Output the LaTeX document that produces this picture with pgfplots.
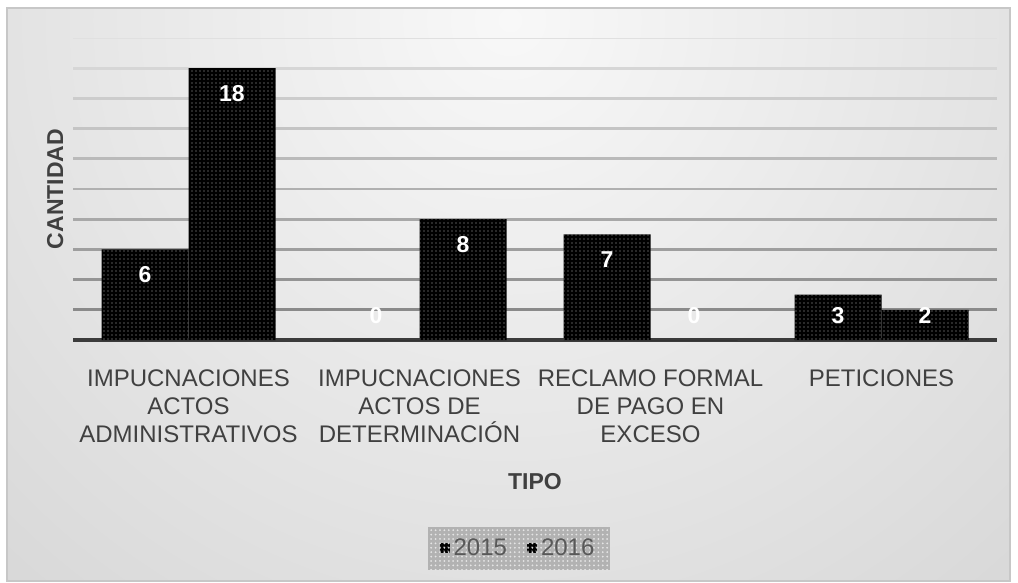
\documentclass[border=0pt]{standalone}
\usepackage{fontspec}
\setmainfont{Liberation Sans}
\usepackage{pgfplots}
\pgfplotsset{compat=1.18}
\usetikzlibrary{patterns.meta}

\definecolor{txt}{HTML}{404040}
\definecolor{leg}{HTML}{595959}
\definecolor{bginner}{HTML}{F8F8F8}
\definecolor{bgouter}{HTML}{C9C9C9}

\begin{document}
\begin{tikzpicture}
\useasboundingbox (0,0) rectangle (509pt,-291.5pt);
\fill[white] (0,0) rectangle (509pt,-291.5pt);
\begin{scope}
  \clip (3.5pt,-4pt) rectangle (505pt,-290.5pt);
  \shade[inner color=bginner, outer color=bgouter] (255pt,-10pt) circle (560pt);
\end{scope}
\draw[black!22, line width=0.6pt] (3.5pt,-4pt) rectangle (505pt,-290.5pt);

\begin{axis}[
  at={(36.5pt,-170pt)}, anchor=south west,
  scale only axis, width=462pt, height=151pt,
  ybar=0pt, bar width=43.5pt,
  xmin=-0.5, xmax=3.5, ymin=0, ymax=20,
  /pgf/number format/assume math mode=true,
  axis x line*=bottom, axis y line*=left,
  x axis line style={black!77, line width=2pt, -},
  y axis line style={draw=none},
  ytick=\empty,
  xtick={0,1,2,3},
  major tick length=0pt,
  xticklabels={{IMPUCNACIONES\\ACTOS\\ADMINISTRATIVOS},{IMPUCNACIONES\\ACTOS DE\\DETERMINACIÓN},{RECLAMO FORMAL\\DE PAGO EN\\EXCESO},{PETICIONES}},
  xticklabel style={align=center, font=\fontsize{12}{14}\selectfont, text=txt, anchor=north, inner sep=0pt, yshift=-14.5pt},
  xlabel={TIPO},
  xlabel style={at={(axis description cs:0.5,-0.4934)}, anchor=base, inner sep=0pt, font=\fontsize{11.5}{12}\selectfont\bfseries, text=txt},
  ylabel={CANTIDAD},
  ylabel style={at={(axis description cs:-0.0108,0.5)}, anchor=base, inner sep=0pt, font=\fontsize{11.5}{12}\selectfont\bfseries, text=txt},
  nodes near coords,
  visualization depends on={rawy \as \ry},
  every node near coord/.append style={font=\fontsize{11.5}{12}\selectfont\bfseries, text=white, anchor=center, inner sep=0pt, yshift={(max(\ry-1.68,1.6)-\ry)*7.55pt}},
  legend columns=-1,
  legend style={at={(axis description cs:0.4827,-0.690)}, anchor=center, draw=none,
    fill=black!30, postaction={pattern={Dots[distance=2.2pt,radius=0.5pt]}, pattern color=white!90!black},
    font=\fontsize{12}{13}\selectfont, text=leg, inner xsep=6pt, inner ysep=4pt,
    /tikz/every even column/.append style={column sep=8pt}},
  every axis plot post/.append style={
    legend image code/.code={\fill[black] (0pt,-2.5pt) rectangle (5pt,2.5pt);}},
]
\foreach \v/\c in {2/46,4/42,6/38,8/34,10/31,12/27,14/23,16/20,18/16,20/12}{
  \edef\tmp{\noexpand\draw[black!\c, line width=1.35pt] (axis cs:-0.5,\v) -- (axis cs:3.5,\v);}
  \tmp
}
\addplot[fill=black, draw=none,
  postaction={pattern={Dots[distance=2pt,radius=0.33pt]}, pattern color=white!70!black}]
  coordinates {(0,6) (1,0) (2,7) (3,3)};
\addplot[fill=black, draw=none,
  postaction={pattern={Dots[distance=2pt,radius=0.33pt]}, pattern color=white!70!black}]
  coordinates {(0,18) (1,8) (2,0) (3,2)};
\legend{2015,2016}
\end{axis}
\end{tikzpicture}
\end{document}
